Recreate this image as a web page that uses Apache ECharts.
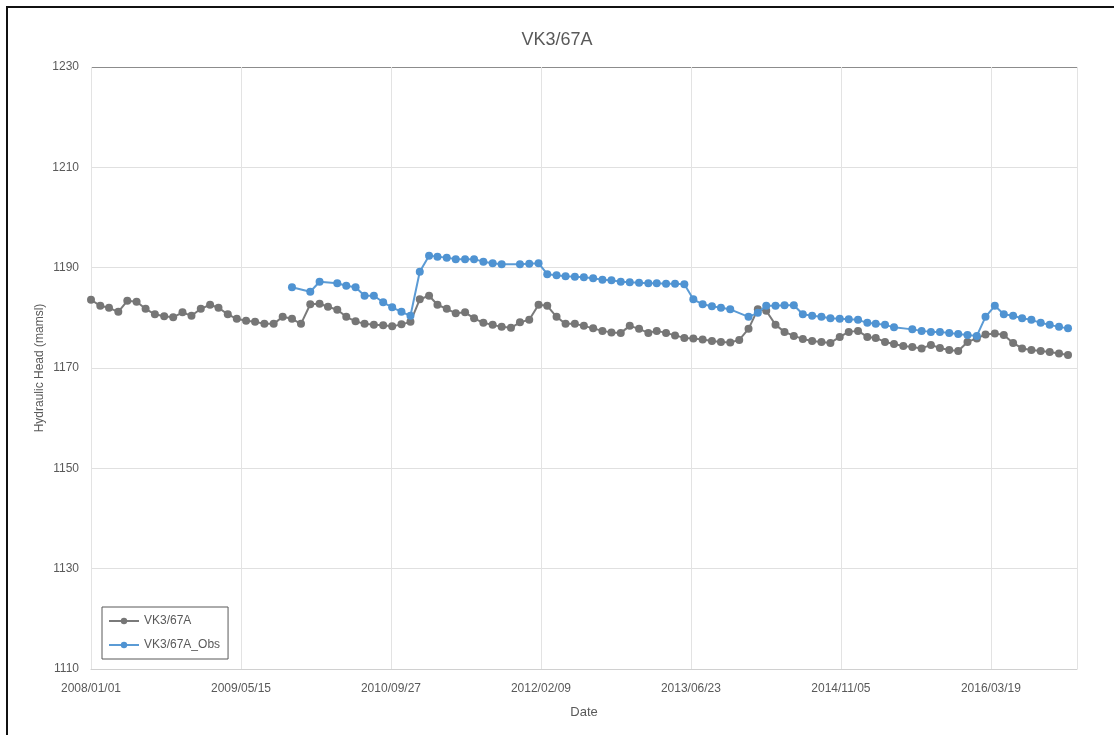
<!DOCTYPE html>
<html>
<head>
<meta charset="utf-8">
<script src="https://cdn.jsdelivr.net/npm/echarts@6/dist/echarts.min.js"></script>
<style>
  html, body { margin: 0; padding: 0; background: #fff; }
  #chart { position: absolute; left: 0; top: 0; width: 1114px; height: 735px; }
  #frame { position: absolute; left: 6px; top: 6px; width: 1200px; height: 800px;
           border: 2px solid #111; pointer-events: none; }
</style>
</head>
<body>
<div id="chart"></div>
<div id="frame"></div>
<script>
// Monthly readings, first of each month
const months = [
  '2008-01','2008-02','2008-03','2008-04','2008-05','2008-06','2008-07','2008-08','2008-09','2008-10','2008-11','2008-12',
  '2009-01','2009-02','2009-03','2009-04','2009-05','2009-06','2009-07','2009-08','2009-09','2009-10','2009-11','2009-12',
  '2010-01','2010-02','2010-03','2010-04','2010-05','2010-06','2010-07','2010-08','2010-09','2010-10','2010-11','2010-12',
  '2011-01','2011-02','2011-03','2011-04','2011-05','2011-06','2011-07','2011-08','2011-09','2011-10','2011-11','2011-12',
  '2012-01','2012-02','2012-03','2012-04','2012-05','2012-06','2012-07','2012-08','2012-09','2012-10','2012-11','2012-12',
  '2013-01','2013-02','2013-03','2013-04','2013-05','2013-06','2013-07','2013-08','2013-09','2013-10','2013-11','2013-12',
  '2014-01','2014-02','2014-03','2014-04','2014-05','2014-06','2014-07','2014-08','2014-09','2014-10','2014-11','2014-12',
  '2015-01','2015-02','2015-03','2015-04','2015-05','2015-06','2015-07','2015-08','2015-09','2015-10','2015-11','2015-12',
  '2016-01','2016-02','2016-03','2016-04','2016-05','2016-06','2016-07','2016-08','2016-09','2016-10','2016-11','2016-12'
];

// Simulated head (mamsl)
const simulated = [
  1183.6, 1182.4, 1182.0, 1181.2, 1183.4, 1183.2, 1181.8, 1180.7, 1180.3, 1180.1, 1181.1, 1180.4,
  1181.8, 1182.6, 1182.0, 1180.7, 1179.8, 1179.4, 1179.2, 1178.8, 1178.8, 1180.2, 1179.8, 1178.8,
  1182.7, 1182.8, 1182.2, 1181.6, 1180.2, 1179.3, 1178.8, 1178.6, 1178.5, 1178.3, 1178.7, 1179.2,
  1183.7, 1184.4, 1182.6, 1181.8, 1180.9, 1181.1, 1179.9, 1179.0, 1178.6, 1178.2, 1178.0, 1179.1,
  1179.6, 1182.6, 1182.4, 1180.2, 1178.8, 1178.8, 1178.4, 1177.9, 1177.4, 1177.1, 1177.0, 1178.4,
  1177.8, 1177.0, 1177.4, 1177.0, 1176.5, 1176.0, 1175.9, 1175.7, 1175.4, 1175.2, 1175.1, 1175.6,
  1177.8, 1181.7, 1181.4, 1178.6, 1177.2, 1176.4, 1175.8, 1175.4, 1175.2, 1175.0, 1176.2, 1177.2,
  1177.4, 1176.2, 1176.0, 1175.2, 1174.8, 1174.4, 1174.2, 1173.9, 1174.6, 1174.0, 1173.6, 1173.4,
  1175.2, 1175.9, 1176.7, 1176.9, 1176.6, 1175.0, 1173.9, 1173.6, 1173.4, 1173.2, 1172.9, 1172.6
];

// Observed head (mamsl); null where no reading exists
const observed = [
  null, null, null, null, null, null, null, null, null, null, null, null,
  null, null, null, null, null, null, null, null, null, null, 1186.1, null,
  1185.2, 1187.2, null, 1186.9, 1186.4, 1186.1, 1184.4, 1184.4, 1183.1, 1182.1, 1181.2, 1180.4,
  1189.2, 1192.4, 1192.2, 1192.0, 1191.7, 1191.7, 1191.7, 1191.2, 1190.9, 1190.7, null, 1190.7,
  1190.8, 1190.9, 1188.7, 1188.5, 1188.3, 1188.2, 1188.1, 1187.9, 1187.6, 1187.5, 1187.2, 1187.1,
  1187.0, 1186.9, 1186.9, 1186.8, 1186.8, 1186.7, 1183.7, 1182.7, 1182.3, 1182.0, 1181.7, null,
  1180.2, 1181.0, 1182.4, 1182.4, 1182.5, 1182.5, 1180.7, 1180.4, 1180.2, 1179.9, 1179.8, 1179.7,
  1179.6, 1179.0, 1178.8, 1178.6, 1178.1, null, 1177.7, 1177.4, 1177.2, 1177.2, 1177.0, 1176.8,
  1176.6, 1176.4, 1180.2, 1182.4, 1180.7, 1180.4, 1179.9, 1179.6, 1179.0, 1178.6, 1178.2, 1177.9
];

const seriesNames = ['VK3/67A', 'VK3/67A_Obs'];
const axisStart = '2008-01-01';
const axisEnd = '2016-12-31';
const tickDays = 500;
const headTicks = { min: 1110, max: 1230, step: 20 };

const DAY = 86400000;
const origin = Date.UTC(2008, 0, 1);
function dayOf(s) {
  const p = s.split('-').map(Number);
  return Math.round((Date.UTC(p[0], p[1] - 1, p[2] || 1) - origin) / DAY);
}
function fmt(d) {
  const t = new Date(origin + d * DAY);
  const mm = String(t.getUTCMonth() + 1).padStart(2, '0');
  const dd = String(t.getUTCDate()).padStart(2, '0');
  return t.getUTCFullYear() + '/' + mm + '/' + dd;
}

const simData = months.map((m, i) => [dayOf(m), simulated[i]]);
const obsData = months.map((m, i) => [dayOf(m), observed[i]]).filter(p => p[1] !== null);

const FONT = '"Liberation Sans Narrow", "Liberation Sans", sans-serif';
const TXT = '#595959';

const chart = echarts.init(document.getElementById('chart'), null, { renderer: 'canvas' });
chart.setOption({
  backgroundColor: '#ffffff',
  animation: false,
  title: {
    text: 'VK3/67A',
    left: 'center',
    top: 26,
    textStyle: { fontFamily: FONT, fontSize: 18, fontWeight: 'normal', color: TXT }
  },
  legend: {
    data: seriesNames,
    orient: 'vertical',
    left: 102,
    top: 607,
    padding: [8, 8, 8, 6],
    itemGap: 12,
    itemWidth: 30,
    itemHeight: 8,
    backgroundColor: '#fff',
    borderColor: '#595959',
    borderWidth: 1,
    borderRadius: 0,
    textStyle: { fontFamily: FONT, fontSize: 12, color: TXT }
  },
  grid: { left: 91, right: 37, top: 67, bottom: 66, containLabel: false },
  xAxis: {
    type: 'value',
    min: dayOf(axisStart),
    max: dayOf(axisEnd),
    interval: tickDays,
    name: 'Date',
    nameLocation: 'middle',
    nameGap: 37,
    nameTextStyle: { fontFamily: FONT, fontSize: 13, color: TXT },
    axisLine: { show: true, lineStyle: { color: '#d0d0d0', width: 1 } },
    axisTick: { show: false },
    axisLabel: {
      fontFamily: FONT, fontSize: 12, color: TXT, margin: 14,
      showMaxLabel: false,
      formatter: v => fmt(v)
    },
    splitLine: { show: true, lineStyle: { color: '#e3e3e3', width: 1 } }
  },
  yAxis: {
    type: 'value',
    min: headTicks.min,
    max: headTicks.max,
    interval: headTicks.step,
    name: 'Hydraulic Head (mamsl)',
    nameLocation: 'middle',
    nameGap: 45,
    nameMoveOverlap: false,
    nameTextStyle: { fontFamily: FONT, fontSize: 12, color: TXT },
    axisLine: { show: false },
    axisTick: { show: false },
    axisLabel: { fontFamily: FONT, fontSize: 12, color: TXT, margin: 12, formatter: v => String(v) },
    splitLine: {
      show: true,
      lineStyle: {
        color: ['#d0d0d0', '#e0e0e0', '#e0e0e0', '#e0e0e0', '#e0e0e0', '#e0e0e0', '#8c8c8c'],
        width: 1
      }
    }
  },
  series: [
    {
      name: seriesNames[0],
      type: 'line',
      data: simData,
      symbol: 'circle',
      symbolSize: 8,
      showAllSymbol: true,
      lineStyle: { color: '#7a7a7a', width: 2 },
      itemStyle: { color: '#767676' },
      z: 2
    },
    {
      name: seriesNames[1],
      type: 'line',
      data: obsData,
      symbol: 'circle',
      symbolSize: 8,
      showAllSymbol: true,
      lineStyle: { color: '#5b9bd5', width: 2 },
      itemStyle: { color: '#4f93d2' },
      z: 3
    }
  ]
});
</script>
</body>
</html>
